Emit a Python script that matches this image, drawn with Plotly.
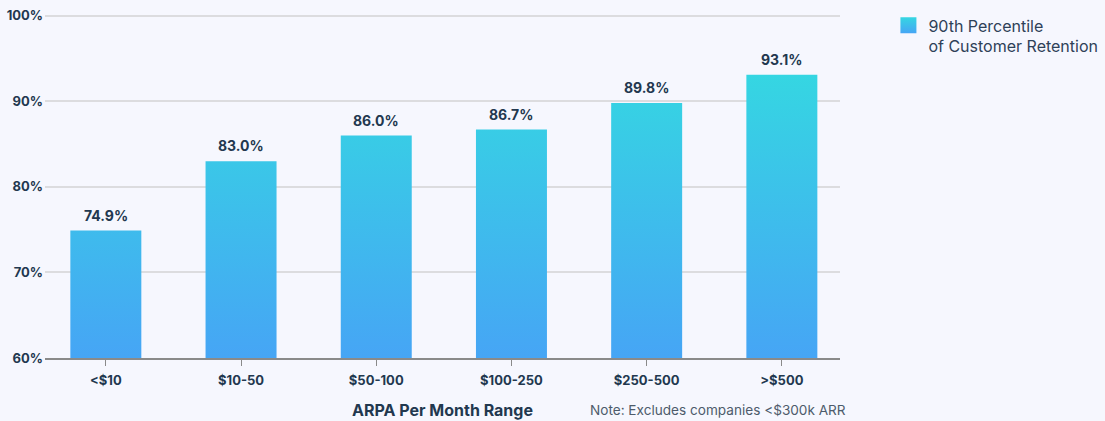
import plotly.graph_objects as go

categories = ["<$10", "$10-50", "$50-100", "$100-250", "$250-500", ">$500"]
values = [74.9, 83.0, 86.0, 86.7, 89.8, 93.1]
value_labels = ["74.9%", "83.0%", "86.0%", "86.7%", "89.8%", "93.1%"]
y_tick_vals = [60, 70, 80, 90, 100]
y_tick_text = ["60%", "70%", "80%", "90%", "100%"]
series_name = "90th Percentile<br>of Customer Retention"
x_title = "ARPA Per Month Range"
note_text = "Note: Excludes companies <$300k ARR"

BAR_W = 0.525
Y_MIN, Y_MAX = 60, 100
TEXT = "#22384f"
FONT = "Inter"
BG = "#f6f7fe"
C_TOP = "#35d6e2"
C_BOT = "#46a5f5"

xs, ys = [], []
for i, v in enumerate(values):
    xs += [i - BAR_W / 2, i - BAR_W / 2, i + BAR_W / 2, i + BAR_W / 2, i - BAR_W / 2, None]
    ys += [Y_MIN, v, v, Y_MIN, Y_MIN, None]

fig = go.Figure()
fig.add_trace(go.Scatter(
    x=xs, y=ys, mode="lines", fill="toself",
    line=dict(width=0, color="rgba(0,0,0,0)"),
    fillgradient=dict(type="vertical",
                      colorscale=[[0, C_BOT], [1, C_TOP]],
                      start=Y_MIN, stop=max(values)),
    name=series_name, hoverinfo="skip", showlegend=False,
))
# legend entry (gradient square swatch)
fig.add_trace(go.Scatter(
    x=[None], y=[None], mode="markers", name=series_name,
    marker=dict(symbol="square", size=16, color=C_TOP,
                gradient=dict(type="vertical", color=C_BOT),
                line=dict(width=0)),
    showlegend=True,
))

for i, (v, t) in enumerate(zip(values, value_labels)):
    fig.add_annotation(x=i, y=v, text=t, showarrow=False, yanchor="bottom", yshift=5,
                       font=dict(family=FONT, size=14, color=TEXT, weight="bold"))

fig.add_annotation(xref="paper", yref="paper", x=0.5, y=-0.152, text=x_title,
                   showarrow=False, xanchor="center", yanchor="middle",
                   font=dict(family=FONT, size=16, color=TEXT, weight="bold"))
fig.add_annotation(xref="paper", yref="paper", x=0.683, y=-0.152, text=note_text,
                   showarrow=False, xanchor="left", yanchor="middle",
                   font=dict(family=FONT, size=13.6, color="#4d5b6b"))

fig.update_layout(
    width=1105, height=421,
    margin=dict(l=45, r=265, t=14, b=63),
    paper_bgcolor=BG, plot_bgcolor=BG,
    font=dict(family=FONT, color=TEXT),
    legend=dict(xref="container", yref="container",
                x=0.804, y=0.98, xanchor="left", yanchor="top", valign="top",
                bgcolor="rgba(0,0,0,0)",
                font=dict(family=FONT, size=16, color="#2e4158")),
    xaxis=dict(
        range=[-0.45, len(categories) - 1 + 0.43],
        tickmode="array", tickvals=list(range(len(categories))), ticktext=categories,
        showgrid=False, zeroline=False, automargin=False,
        showline=True, linecolor="#8a8a8a", linewidth=1.5,
        ticks="outside", ticklen=6, tickcolor="#8a8a8a", tickwidth=1,
        ticklabelstandoff=4,
        tickfont=dict(family=FONT, size=13, color=TEXT, weight="bold"),
    ),
    yaxis=dict(
        range=[Y_MIN, Y_MAX + 0.2],
        tickmode="array", tickvals=y_tick_vals, ticktext=y_tick_text,
        showgrid=True, gridcolor="#dcdcdf", gridwidth=1.5,
        zeroline=False, showline=False, ticks="", automargin=False,
        ticklabelstandoff=1,
        tickfont=dict(family=FONT, size=13, color=TEXT, weight="bold"),
    ),
)

fig.write_html("out.html", config={"displayModeBar": False},
               post_script="document.body.style.margin='0';document.body.style.overflow='hidden';")
